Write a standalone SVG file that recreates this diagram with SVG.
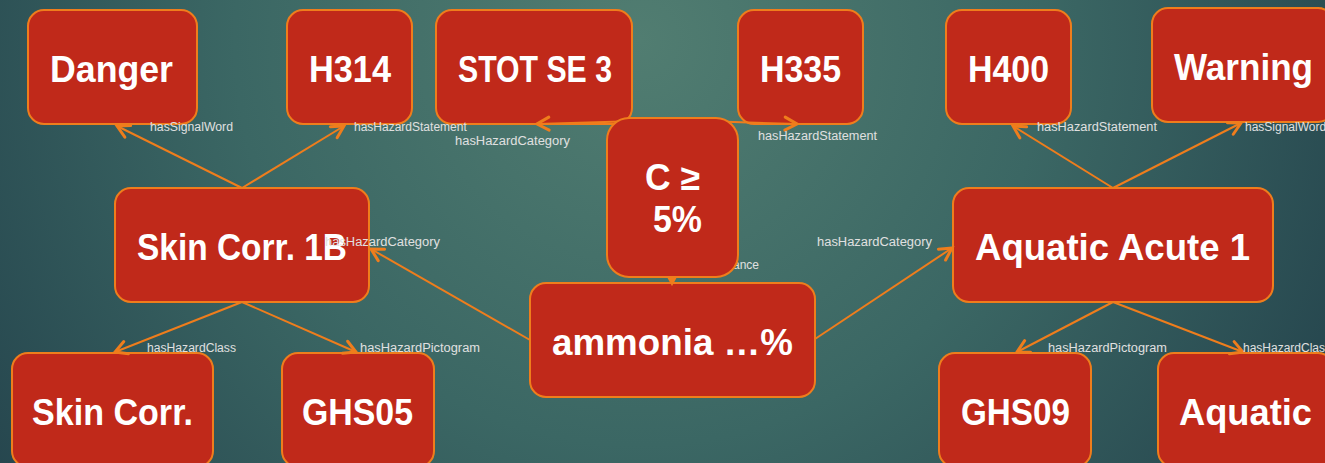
<svg xmlns="http://www.w3.org/2000/svg" width="1325" height="463" viewBox="0 0 1325 463">
<defs>
<radialGradient id="bg" gradientUnits="userSpaceOnUse" cx="640" cy="40" r="900">
<stop offset="0" stop-color="#517d71"/>
<stop offset="0.45" stop-color="#3b6764"/>
<stop offset="1" stop-color="#1f3b47"/>
</radialGradient>
<marker id="arr" markerUnits="userSpaceOnUse" markerWidth="20" markerHeight="20" viewBox="-16 -10 20 20" refX="0" refY="0" orient="auto">
<path d="M-12,-6.5 L0,0 L-12,6.5" fill="none" stroke="#ef7d1c" stroke-width="3" stroke-linecap="round" stroke-linejoin="miter"/>
</marker>
</defs>
<style>
.box{fill:#c0291a;stroke:#ef7d1c;stroke-width:2}
.t{font-family:"Liberation Sans",Arial,sans-serif;font-weight:bold;font-size:36px;fill:#ffffff;text-anchor:middle}
.e{fill:none;stroke:#ef7d1c;stroke-width:2;marker-end:url(#arr)}
.l{font-family:"Liberation Sans",Arial,sans-serif;font-size:12px;fill:#e0e0e0}
</style>
<rect x="0" y="0" width="1325" height="463" fill="url(#bg)"/>
<g id="n-danger"><rect class="box" x="28" y="10" width="169" height="114" rx="16"/><text class="t" x="111.5" y="82" textLength="123" lengthAdjust="spacingAndGlyphs">Danger</text></g>
<g id="n-h314"><rect class="box" x="287" y="10" width="125" height="114" rx="16"/><text class="t" x="350" y="82" textLength="82" lengthAdjust="spacingAndGlyphs">H314</text></g>
<g id="n-stot"><rect class="box" x="436" y="10" width="196" height="114" rx="16"/><text class="t" x="535" y="82" textLength="154" lengthAdjust="spacingAndGlyphs">STOT SE 3</text></g>
<g id="n-h335"><rect class="box" x="738" y="10" width="125" height="114" rx="16"/><text class="t" x="800.5" y="82" textLength="81" lengthAdjust="spacingAndGlyphs">H335</text></g>
<g id="n-h400"><rect class="box" x="946" y="10" width="125" height="114" rx="16"/><text class="t" x="1008.5" y="82" textLength="81" lengthAdjust="spacingAndGlyphs">H400</text></g>
<g id="n-warning"><rect class="box" x="1152" y="8" width="182" height="114" rx="16"/><text class="t" x="1243.5" y="80" textLength="139" lengthAdjust="spacingAndGlyphs">Warning</text></g>
<g id="n-skin1b"><rect class="box" x="115" y="188" width="254" height="114" rx="16"/><text class="t" x="242" y="260" textLength="210" lengthAdjust="spacingAndGlyphs">Skin Corr. 1B</text></g>
<g id="n-aqa1"><rect class="box" x="953" y="188" width="320" height="114" rx="16"/><text class="t" x="1112.5" y="260" textLength="275" lengthAdjust="spacingAndGlyphs">Aquatic Acute 1</text></g>
<g id="n-ammonia"><rect class="box" x="530" y="283" width="285" height="114" rx="16"/><text class="t" x="672.5" y="355" textLength="241" lengthAdjust="spacingAndGlyphs">ammonia …%</text></g>
<g id="n-skincorr"><rect class="box" x="12" y="353" width="201" height="114" rx="16"/><text class="t" x="112.5" y="425" textLength="161" lengthAdjust="spacingAndGlyphs">Skin Corr.</text></g>
<g id="n-ghs05"><rect class="box" x="282" y="353" width="152" height="114" rx="16"/><text class="t" x="357.5" y="425" textLength="111" lengthAdjust="spacingAndGlyphs">GHS05</text></g>
<g id="n-ghs09"><rect class="box" x="939" y="353" width="152" height="114" rx="16"/><text class="t" x="1015.5" y="425" textLength="109" lengthAdjust="spacingAndGlyphs">GHS09</text></g>
<g id="n-aquatic"><rect class="box" x="1158" y="353" width="176" height="114" rx="16"/><text class="t" x="1245.5" y="425" textLength="133" lengthAdjust="spacingAndGlyphs">Aquatic</text></g>
<g id="connectors">
<path class="e" d="M242,188 L117,126"/>
<path class="e" d="M242,188 L344,126"/>
<path class="e" d="M530,340 L371,249"/>
<path class="e" d="M672,120 L537,124"/>
<path class="e" d="M672,120 L797,124"/>
<path class="e" d="M815,339 L952,248"/>
<path class="e" d="M1113,188 L1013,126"/>
<path class="e" d="M1113,188 L1241,123"/>
<path class="e" d="M242,302 L115,352"/>
<path class="e" d="M242,302 L356,352"/>
<path class="e" d="M1113,302 L1017,352"/>
<path class="e" d="M1113,302 L1243,352"/>
<path class="e" d="M672,200 L672,283"/>
</g>
<g id="edge-labels">
<text class="l" x="150" y="131" textLength="83" lengthAdjust="spacingAndGlyphs">hasSignalWord</text>
<text class="l" x="354" y="131">hasHazardStatement</text>
<text class="l" x="325" y="246" textLength="115" lengthAdjust="spacingAndGlyphs">hasHazardCategory</text>
<text class="l" x="455" y="145" textLength="115" lengthAdjust="spacingAndGlyphs">hasHazardCategory</text>
<text class="l" x="758" y="140" textLength="119" lengthAdjust="spacingAndGlyphs">hasHazardStatement</text>
<text class="l" x="817" y="246" textLength="115" lengthAdjust="spacingAndGlyphs">hasHazardCategory</text>
<text class="l" x="1037" y="131" textLength="120" lengthAdjust="spacingAndGlyphs">hasHazardStatement</text>
<text class="l" x="1245" y="131">hasSignalWord</text>
<text class="l" x="147" y="351.5" textLength="89" lengthAdjust="spacingAndGlyphs">hasHazardClass</text>
<text class="l" x="360" y="351.5" textLength="120" lengthAdjust="spacingAndGlyphs">hasHazardPictogram</text>
<text class="l" x="1048" y="351.5" textLength="119" lengthAdjust="spacingAndGlyphs">hasHazardPictogram</text>
<text class="l" x="1243" y="351.5">hasHazardClass</text>
<text class="l" x="733" y="269">ance</text>
</g>
<g id="n-conc"><rect class="box" x="607" y="118" width="131" height="159" rx="22"/><text class="t" x="672.5" y="190" textLength="55" lengthAdjust="spacingAndGlyphs">C ≥</text><text class="t" x="677.5" y="232" textLength="49" lengthAdjust="spacingAndGlyphs">5%</text></g>
</svg>
